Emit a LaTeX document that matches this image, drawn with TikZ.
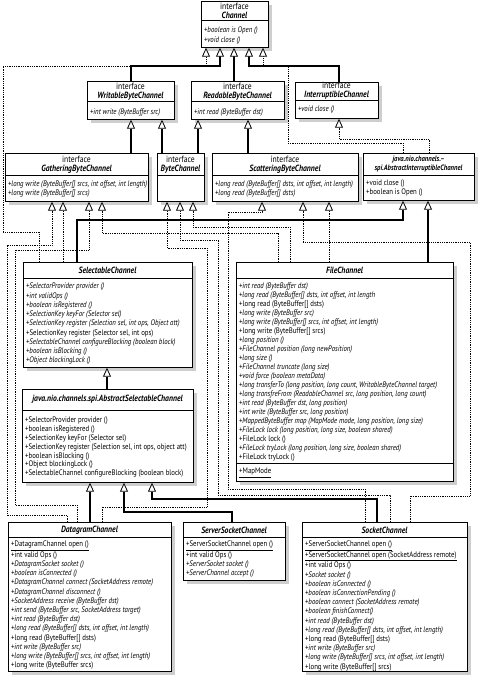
\documentclass[tikz,border=0pt]{standalone}
\usepackage{fontspec}
\setmainfont{PT Sans}[FakeStretch=0.85]
\usetikzlibrary{arrows.meta,shadows}
\tikzset{>=latex}
\newcommand{\clsname}[1]{{\bfseries\itshape #1}}
\tikzset{
  cls/.style={draw, fill=white, line width=0.7pt, anchor=north west, inner sep=0pt,
    drop shadow={shadow xshift=3.5pt, shadow yshift=-3.5pt, fill=black!35, opacity=.55}},
  hdr/.style={font=\fontsize{9}{9}\selectfont, align=center, inner sep=0pt},
  mth/.style={font=\fontsize{8}{#1}\selectfont, align=left, anchor=north west, inner sep=0pt},
  mth/.default=9,
  gen/.style={line width=1.2pt, -{Triangle[width=8pt, length=9pt, line width=0.8pt, fill=white]}},
  real/.style={line width=0.8pt, densely dotted, -{Triangle[width=8pt, length=9pt, line width=0.8pt, fill=white]}},
}

\begin{document}
\begin{tikzpicture}[x=1pt,y=-1pt]
\useasboundingbox (0,0) rectangle (478,682);
\fill[white] (0,0) rectangle (478,682);

% interfaces at the top
\node[cls, minimum width=67pt, minimum height=46pt] (chan) at (201,1) {};
\draw[line width=0.7pt] (201,20) -- (268,20);
\node[hdr] (chanT) at (234.5,10.5) {interface\\\clsname{Channel}};
\node[mth=9.5] (chanM) at (204,27) {\textit{+boolean is Open ()}\\\textit{+void close ()}};

\node[cls, minimum width=87pt, minimum height=38pt] (writ) at (87,81) {};
\draw[line width=0.7pt] (87,101) -- (174,101);
\node[hdr] (writT) at (130.5,91.5) {interface\\\clsname{WritableByteChannel}};
\node[mth] (writM) at (90,109) {\textit{+int write (ByteBuffer src)}};

\node[cls, minimum width=93pt, minimum height=38pt] (read) at (191,81) {};
\draw[line width=0.7pt] (191,101) -- (284,101);
\node[hdr] (readT) at (237.5,91.5) {interface\\\clsname{ReadableByteChannel}};
\node[mth] (readM) at (194,109) {\textit{+int read (ByteBuffer dst)}};

\node[cls, minimum width=83pt, minimum height=36pt] (intr) at (295,82) {};
\draw[line width=0.7pt] (295,100) -- (378,100);
\node[hdr] (intrT) at (336.5,91) {interface\\\clsname{InterruptibleChannel}};
\node[mth] (intrM) at (298,106) {\textit{+void close ()}};

\node[cls, minimum width=143pt, minimum height=48pt] (gath) at (5,153) {};
\draw[line width=0.7pt] (5,175) -- (148,175);
\node[hdr] (gathT) at (76.5,164.5) {interface\\\clsname{GatheringByteChannel}};
\node[mth] (gathM) at (8,181) {\textit{+long write (ByteBuffer[] srcs, int offset, int length)}\\\textit{+long write (ByteBuffer[] srcs)}};

\node[cls, minimum width=47pt, minimum height=48pt] (byte) at (157,153) {};
\draw[line width=0.7pt] (157,175) -- (204,175);
\node[hdr] (byteT) at (180.5,164.5) {interface\\\clsname{ByteChannel}};

\node[cls, minimum width=146pt, minimum height=48pt] (scat) at (212,153) {};
\draw[line width=0.7pt] (212,175) -- (358,175);
\node[hdr] (scatT) at (285,164.5) {interface\\\clsname{ScatteringByteChannel}};
\node[mth] (scatM) at (215,181) {\textit{+long read (ByteBuffer[] dsts, int offset, int length)}\\\textit{+long read (ByteBuffer[] dsts)}};

\node[cls, minimum width=111pt, minimum height=47pt] (absi) at (363,153) {};
\draw[line width=0.7pt] (363,175) -- (474,175);
\node[hdr, font=\fontsize{7.8}{9}\selectfont] (absiT) at (418.5,164.5) {\clsname{java.nio.channels.–}\\\clsname{spi.AbstractInterruptibleChannel}};
\node[mth] (absiM) at (366,180) {+void close ()\\+boolean is Open ()};

% selectable side
\node[cls, minimum width=169pt, minimum height=105pt] (sel) at (23,262) {};
\draw[line width=0.7pt] (23,278) -- (192,278);
\node[hdr] (selT) at (107.5,270) {\clsname{SelectableChannel}};
\node[mth=9.25] (selM) at (26,283) {\textit{+SelectorProvider provider ()}\\\textit{+int validOps ()}\\\textit{+boolean isRegistered ()}\\\textit{+SelectionKey keyFor (Selector sel)}\\\textit{+SelectionKey register (Selection sel, int ops, Object att)}\\+SelectionKey register (Selector sel, int ops)\\\textit{+SelectableChannel configureBlocking (boolean block)}\\\textit{+boolean isBlocking ()}\\\textit{+Object blockingLock ()}};

\node[cls, minimum width=171pt, minimum height=93pt] (asel) at (22,389) {};
\draw[line width=0.7pt] (22,410) -- (193,410);
\node[hdr] (aselT) at (107.5,399) {\clsname{java.nio.channels.spi.AbstractSelectableChannel}};
\node[mth=8.8] (aselM) at (25,417) {+SelectorProvider provider ()\\+boolean isRegistered ()\\+SelectionKey keyFor (Selector sel)\\+SelectionKey register (Selection sel, int ops, object att)\\+boolean isBlocking ()\\+Object blockingLock ()\\+SelectableChannel configureBlocking (boolean block)};

% file channel
\node[cls, minimum width=217pt, minimum height=219pt] (file) at (236,262) {};
\draw[line width=0.7pt] (236,278) -- (453,278);
\draw[line width=0.7pt] (236,463) -- (453,463);
\node[hdr] (fileT) at (344.5,270) {\clsname{FileChannel}};
\node[mth] (fileM) at (239,283) {\textit{+int read (ByteBuffer dst)}\\\textit{+long read (ByteBuffer[] dsts, int offset, int length}\\+long read (ByteBuffer[] dsts)\\\textit{+long write (ByteBuffer src)}\\\textit{+long write (ByteBuffer[] srcs, int offset, int length)}\\+long write (ByteBuffer[] srcs)\\\textit{+long position ()}\\\textit{+FileChannel position (long newPosition)}\\\textit{+long size ()}\\\textit{+FileChannel truncate (long size)}\\\textit{+void force (boolean metaData)}\\\textit{+long transferTo (long position, long count, WritableByteChannel target)}\\\textit{+long transfreFrom (ReadableChannel src, long position, long count)}\\\textit{+int read (ByteBuffer dst, long position)}\\\textit{+int write (ByteBuffer src, long position)}\\\textit{+MappedByteBuffer map (MapMode mode, long position, long size)}\\\textit{+FileLock lock (long position, long size, boolean shared)}\\+FileLock lock ()\\\textit{+FileLock tryLock (long position, long size, boolean shared)}\\+FileLock tryLock ()};
\node[mth] (fileX) at (239,468) {\underline{+MapMode}};

% concrete channels
\node[cls, minimum width=163pt, minimum height=149pt] (data) at (8,522) {};
\draw[line width=0.7pt] (8,537) -- (171,537);
\node[hdr] (dataT) at (89.5,530) {\clsname{DatagramChannel}};
\node[mth=9.2] (dataM) at (11,541) {\underline{+DatagramChannel open ()}\\+int valid Ops ()\\\textit{+DatagramSocket socket ()}\\\textit{+boolean isConnected ()}\\\textit{+DatagramChannel connect (SocketAddress remote)}\\\textit{+DatagramChannel disconnect ()}\\\textit{+SocketAddress receive (ByteBuffer dst)}\\\textit{+int send (ByteBuffer src, SocketAddress target)}\\\textit{+int read (ByteBuffer dst)}\\\textit{+long read (ByteBuffer[] dsts, int offset, int length)}\\+long read (ByteBuffer[] dsts)\\\textit{+int write (ByteBuffer src)}\\\textit{+long write (ByteBuffer[] srcs, int offset, int length)}\\+long write (ByteBuffer srcs)};

\node[cls, minimum width=102pt, minimum height=58pt] (ssock) at (183,522) {};
\draw[line width=0.7pt] (183,537) -- (285,537);
\node[hdr] (ssockT) at (234,530) {\clsname{ServerSocketChannel}};
\node[mth] (ssockM) at (186,541) {\underline{+ServerSocketChannel open ()}\\+int valid Ops ()\\\textit{+ServerSocket socket ()}\\\textit{+ServerChannel accept ()}};

\node[cls, minimum width=165pt, minimum height=149pt] (sock) at (302,522) {};
\draw[line width=0.7pt] (302,537) -- (467,537);
\node[hdr] (sockT) at (384.5,530) {\clsname{SocketChannel}};
\node[mth=9.2] (sockM) at (305,541) {\underline{+ServerSocketChannel open ()}\\\underline{+ServerSocketChannel open (SocketAddress remote)}\\+int valid Ops ()\\\textit{+Socket socket ()}\\\textit{+boolean isConnected ()}\\\textit{+boolean isConnectionPending ()}\\\textit{+boolean connect (SocketAddress remote)}\\\textit{+boolean finishConnect()}\\\textit{+int read (ByteBuffer dst)}\\\textit{+long read (ByteBuffer[] dsts, int offset, int length)}\\+long read (ByteBuffer[] dsts)\\\textit{+int write (ByteBuffer src)}\\\textit{+long write (ByteBuffer[] srcs, int offset, int length)}\\+long write (ByteBuffer[] srcs)};

% connectors to Channel and the first row
\draw[real] (39,0 |- sel.north) |- (3,232) |- (206,66) -- (206,0 |- chan.south);
\draw[gen] (131,0 |- writ.north) |- (220,66) -- (220,0 |- chan.south);
\draw[gen] (234,0 |- read.north) -- (234,0 |- chan.south);
\draw[gen] (339,0 |- intr.north) |- (249,66) -- (249,0 |- chan.south);
\draw[real] (403,0 |- absi.north) |- (288,143) |- (263,66) -- (263,0 |- chan.south);
\draw[gen] (131,0 |- gath.north) -- (131,0 |- writ.south);
\draw[gen] (162,0 |- byte.north) -- (162,0 |- writ.south);
\draw[gen] (198,0 |- byte.north) -- (198,0 |- read.south);
\draw[gen] (248,0 |- scat.north) -- (248,0 |- read.south);
\draw[real] (429,0 |- absi.north) |- (339,139) -- (339,0 |- intr.south);

% connectors to the second row
\draw[gen] (77,0 |- sel.north) |- (403,220) -- (403,0 |- absi.south);
\draw[gen] (428,0 |- file.north) -- (428,0 |- absi.south);
\draw[real] (63,0 |- sel.north) -- (63,0 |- gath.south);
\draw[real] (290,0 |- file.north) |- (193,227) -- (193,0 |- byte.south);
\draw[real] (278,0 |- file.north) |- (102,233) -- (102,0 |- gath.south);
\draw[real] (329,0 |- file.north) -- (329,0 |- scat.south);
\draw[real] (410,0 |- sock.north) |- (470,496) |- (303,242) -- (303,0 |- scat.south);
\draw[real] (67,0 |- data.north) |- (7,515) |- (52,245) -- (52,0 |- gath.south);
\draw[real] (77,0 |- data.north) |- (15,505) |- (89,250) -- (89,0 |- gath.south);
\draw[real] (102,0 |- data.north) |- (207,507) |- (167,248) -- (167,0 |- byte.south);
\draw[real] (390,0 |- sock.north) |- (218,495) |- (180,240) -- (180,0 |- byte.south);
\draw[real] (365,0 |- sock.north) |- (228,489) |- (262,212) -- (262,0 |- scat.south);

% inheritance below
\draw[gen] (107,0 |- asel.north) -- (107,0 |- sel.south);
\draw[gen] (90,0 |- data.north) -- (90,0 |- asel.south);
\draw[gen] (232,0 |- ssock.north) |- (124,512) -- (124,0 |- asel.south);
\draw[gen] (377,0 |- sock.north) |- (152,499) -- (152,0 |- asel.south);
\end{tikzpicture}
\end{document}
